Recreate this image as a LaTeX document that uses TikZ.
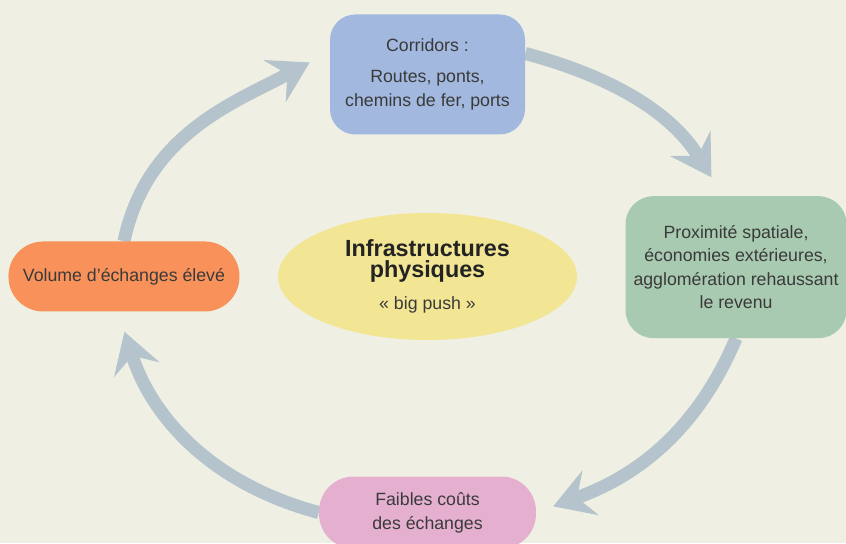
\documentclass[tikz,border=0pt]{standalone}
\usepackage{fontspec}
\setmainfont{Liberation Sans}
\usetikzlibrary{arrows.meta,positioning,shapes.geometric,backgrounds}
\definecolor{paper}{HTML}{EFF0E3}
\definecolor{band}{HTML}{B5C3CC}
\definecolor{ink}{HTML}{3A3A3A}
\definecolor{sky}{HTML}{A2B8DF}
\definecolor{sage}{HTML}{A8CAB0}
\definecolor{coral}{HTML}{F8925A}
\definecolor{rose}{HTML}{E5B0D0}
\definecolor{straw}{HTML}{F2E594}
\newcommand\boxfont{\fontsize{13.3}{18}\selectfont}
\newcommand\titlefont{\fontsize{17.5}{15.75}\selectfont\bfseries}
\tikzset{
  box/.style={
    rounded corners=19pt, inner sep=0pt,
    align=center, text=ink, font=\boxfont
  },
  pill/.style={
    rounded corners=26pt, inner sep=0pt,
    align=center, text=ink, font=\boxfont
  },
  hub/.style={
    ellipse, fill=straw, inner sep=0pt,
    minimum width=224.25pt, minimum height=95.25pt,
    align=center, text=ink!60!black, font=\titlefont
  },
  arrow/.style={-{Stealth[length=30pt,width=36pt,inset=11pt,line width=0pt]}, line width=9.75pt, draw=band, shorten >=16.5pt}
}
\begin{document}
\begin{tikzpicture}[x=0.75pt,y=0.75pt]
        \useasboundingbox (0,0) rectangle (846,543);
        \node[hub] (infra) at (427.5,266.5) {Infrastructures\\physiques\\[8.25pt]{\boxfont\mdseries\color{ink}« big push »}};
        \node[box, fill=sky, minimum width=146.25pt, minimum height=90pt, above=58.5pt of infra] (corr) {Corridors :\\[5.25pt]Routes, ponts,\\chemins de fer, ports};
        \node[box, fill=sage, rounded corners=21pt, minimum width=165.75pt, minimum height=106.5pt, font=\fontsize{13.3}{17.5}\selectfont, right=36pt of infra, yshift=7pt] (prox) {Proximité spatiale,\\économies extérieures,\\agglomération rehaussant\\le revenu};
        \node[pill, fill=coral, minimum width=173.25pt, minimum height=52.5pt, left=28.5pt of infra] (vol) {Volume d’échanges élevé};
        \node[pill, fill=rose, minimum width=162.75pt, minimum height=54pt, below=102pt of infra] (cost) {Faibles coûts\\des échanges};
        \begin{scope}[on background layer]
          \fill[paper] (0,0) rectangle (846,543);
          \draw[arrow, shorten >=17pt] (vol.north) to[out=78,in=208] ([yshift=17pt]corr.west);
          \draw[arrow] ([yshift=15.75pt]corr.east) to[out=-15,in=122] ([xshift=-9.75pt]prox.north);
          \draw[arrow, shorten >=13.5pt] (prox.south) to[out=-113,in=20] (cost.east);
          \draw[arrow, shorten >=15.75pt] (cost.west) to[out=165,in=-72] ([xshift=-4.5pt]vol.south);
        \end{scope}
      \end{tikzpicture}
\end{document}
